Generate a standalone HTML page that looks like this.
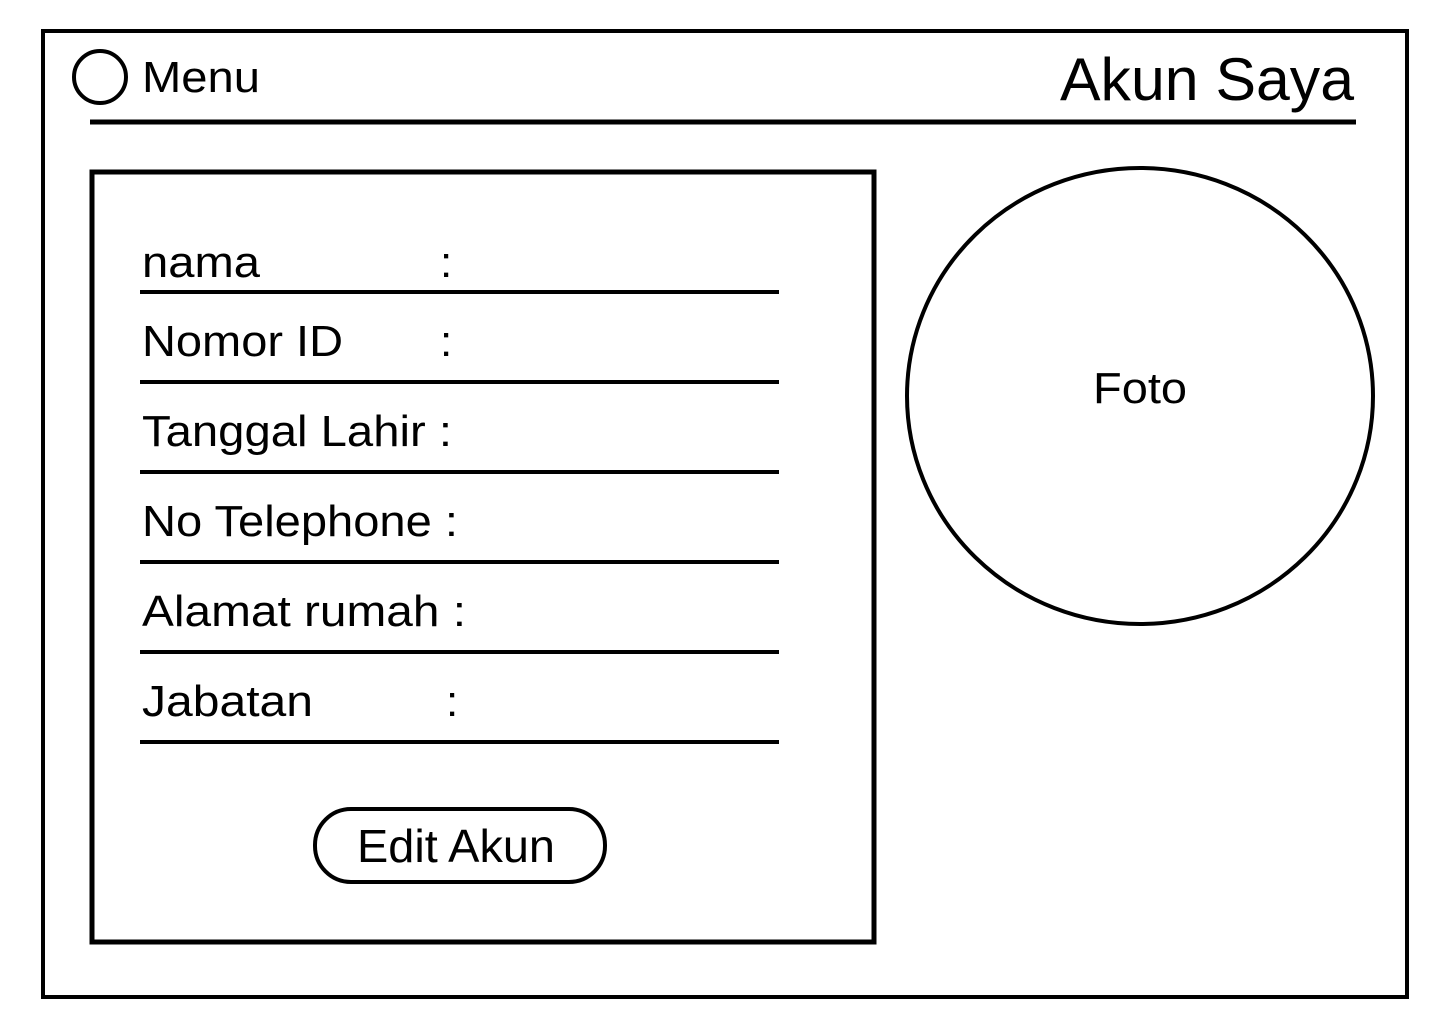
<!DOCTYPE html>
<html><head><meta charset="utf-8"><style>html,body{margin:0;padding:0;background:#fff}svg{display:block}</style></head>
<body>
<svg width="1440" height="1024" viewBox="0 0 1440 1024" xmlns="http://www.w3.org/2000/svg" font-family="'Liberation Sans', sans-serif" fill="#000">
<rect x="0" y="0" width="1440" height="1024" fill="#fff"/>
<rect x="43" y="31" width="1364" height="966" fill="none" stroke="#000" stroke-width="4"/>
<circle cx="100" cy="77" r="26" fill="none" stroke="#000" stroke-width="4"/>
<text x="142" y="92" font-size="44" textLength="118" lengthAdjust="spacingAndGlyphs">Menu</text>
<text x="1060" y="100" font-size="60" textLength="294" lengthAdjust="spacingAndGlyphs">Akun Saya</text>
<line x1="90" y1="122" x2="1356" y2="122" stroke="#000" stroke-width="5"/>
<rect x="92" y="172" width="782" height="770" fill="none" stroke="#000" stroke-width="5"/>
<g stroke="#000" stroke-width="4">
<line x1="140" y1="292" x2="779" y2="292"/>
<line x1="140" y1="382" x2="779" y2="382"/>
<line x1="140" y1="472" x2="779" y2="472"/>
<line x1="140" y1="562" x2="779" y2="562"/>
<line x1="140" y1="652" x2="779" y2="652"/>
<line x1="140" y1="742" x2="779" y2="742"/>
</g>
<g font-size="44">
<text x="142" y="277" textLength="118" lengthAdjust="spacingAndGlyphs">nama</text><text x="440" y="277">:</text>
<text x="142" y="356" textLength="201" lengthAdjust="spacingAndGlyphs">Nomor ID</text><text x="440" y="356">:</text>
<text x="142" y="446" textLength="310" lengthAdjust="spacingAndGlyphs">Tanggal Lahir :</text>
<text x="142" y="536" textLength="316" lengthAdjust="spacingAndGlyphs">No Telephone :</text>
<text x="142" y="626" textLength="324" lengthAdjust="spacingAndGlyphs">Alamat rumah :</text>
<text x="142" y="716" textLength="171" lengthAdjust="spacingAndGlyphs">Jabatan</text><text x="446" y="716">:</text>
</g>
<ellipse cx="1140" cy="396" rx="233" ry="228" fill="none" stroke="#000" stroke-width="4"/>
<text x="1093" y="403" font-size="44" textLength="94" lengthAdjust="spacingAndGlyphs">Foto</text>
<rect x="315" y="809" width="290" height="73" rx="36" fill="none" stroke="#000" stroke-width="4"/>
<text x="357" y="862" font-size="46" textLength="198" lengthAdjust="spacingAndGlyphs">Edit Akun</text>
</svg>
</body></html>
